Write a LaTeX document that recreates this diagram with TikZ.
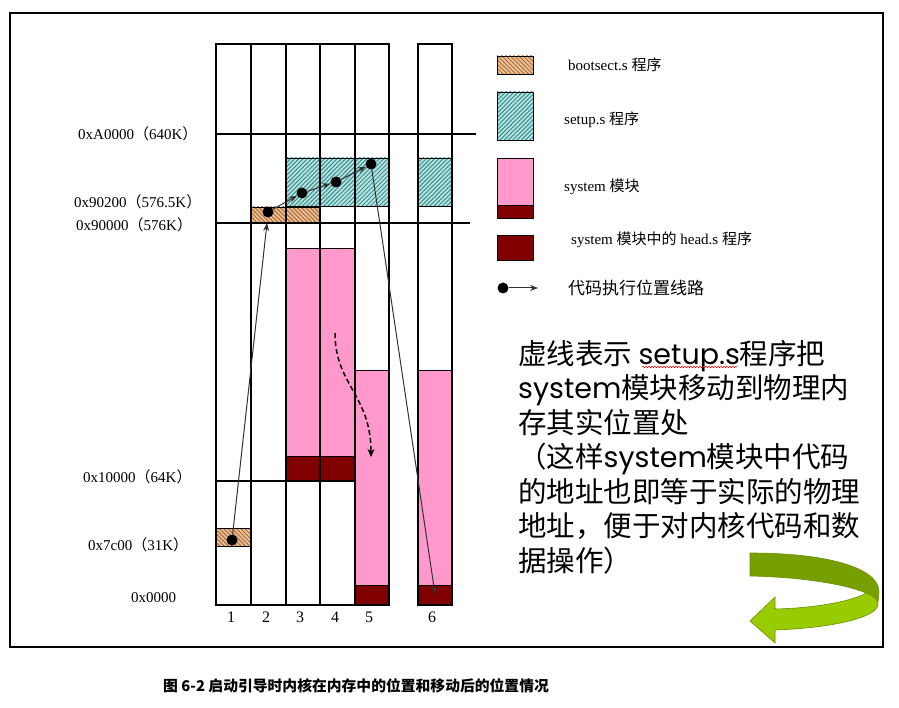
\documentclass[tikz,border=0pt]{standalone}
\usepackage{fontspec}
\setmainfont{Liberation Serif}
\newfontfamily\cjk{Noto Sans CJK SC}
\newfontfamily\gothic{Poppins}
\usetikzlibrary{patterns.meta,arrows.meta,decorations.pathmorphing}
\definecolor{bootbg}{HTML}{EDC293}
\definecolor{bootln}{HTML}{A8693E}
\definecolor{setbg}{HTML}{B6E6E4}
\definecolor{setln}{HTML}{3E8C8A}
\definecolor{sysc}{HTML}{FF99CC}
\definecolor{headc}{HTML}{800000}
\definecolor{gdark}{HTML}{779F00}
\definecolor{glight}{HTML}{99CC00}
\definecolor{gline}{HTML}{6A9000}
\newcommand{\fw}[1]{{\cjk #1}}
\tikzset{
  col/.style={draw, line width=1.8pt},
  addrline/.style={draw, line width=1.1pt},
  bootblk/.style={preaction={fill=bootbg}, pattern={Lines[angle=-45,distance=3pt,line width=1pt]}, pattern color=bootln, draw, line width=0.8pt},
  setblk/.style={preaction={fill=setbg}, pattern={Lines[angle=45,distance=3pt,line width=1pt]}, pattern color=setln, draw, line width=0.8pt},
  sysblk/.style={fill=sysc, draw, line width=0.8pt},
  headblk/.style={fill=headc, draw, line width=0.8pt},
  addr/.style={anchor=west, inner sep=0pt, font=\fontsize{15}{18}\selectfont},
  leg/.style={anchor=west, inner sep=0pt, font=\fontsize{15}{18}\selectfont},
  dot/.style={circle, fill=black, inner sep=0pt, minimum size=11pt},
  run/.style={draw=black!80, line width=1pt, -{Stealth[length=8pt,width=6pt]}},
  note/.style={anchor=base west, inner sep=0pt, font=\cjk\fontsize{28.5}{34}\selectfont}}

\begin{document}
\begin{tikzpicture}[x=1pt, y=-1pt]
\useasboundingbox (0,0) rectangle (899,708);
\draw[line width=1.5pt] (10,13) rectangle (883,647);
% blocks in the memory columns
\path[bootblk] (216,528) rectangle (251,546);
\path[bootblk] (251,207) rectangle (320,223);
\path[setblk] (286,158) rectangle (389,206);
\path[setblk] (418,158) rectangle (452,206);
\path[sysblk] (286,248) rectangle (355,456);
\path[headblk] (286,456) rectangle (355,481);
\foreach \a/\b in {355/389, 418/452} {
  \path[sysblk] (\a,370) rectangle (\b,585);
  \path[headblk] (\a,585) rectangle (\b,605);}
% columns
\foreach \a/\b in {216/251, 251/286, 286/320, 320/355, 355/389, 418/452}
  \draw[col] (\a,44) rectangle (\b,605);
\draw[addrline] (216,134) -- (476,134);
\draw[addrline] (216,223) -- (470,223);
\draw[addrline] (216,481) -- (355,481);
% addresses
\foreach \x/\y/\t [count=\i] in {
    78/134/{0xA0000\fw{（}640K\fw{）}},
    74/202/{0x90200\fw{（}576.5K\fw{）}},
    76/225/{0x90000\fw{（}576K\fw{）}},
    83/477/{0x10000\fw{（}64K\fw{）}},
    88/545/{0x7c00\fw{（}31K\fw{）}},
    131/598/{0x0000}}
  \node[addr] (a\i) at (\x,\y) {\t};
\foreach \x/\n in {231/1, 266/2, 300/3, 335/4, 369/5, 432/6}
  \node[font=\fontsize{16}{18}\selectfont, inner sep=0pt] (c\n) at (\x,617) {\n};
% execution path
\node[dot] (d1) at (232,540) {};
\node[dot] (d2) at (268,212) {};
\node[dot] (d3) at (302,193) {};
\node[dot] (d4) at (336,182) {};
\node[dot] (d5) at (371,164) {};
\coordinate (b2) at (267,223);
\coordinate (h6) at (435,594);
\draw[run] (d1) -- (b2);
\draw[run] (d2) -- (d3);
\draw[run] (d3) -- (d4);
\draw[run] (d4) -- (d5);
\draw[run] (d5) -- (h6);
% move of the system module
\coordinate (m1) at (335,333);
\coordinate (m2) at (371,457);
\draw[line width=1.5pt, dash pattern=on 5pt off 3pt, -{Stealth[length=8pt,width=7pt]}]
  (m1) .. controls (335,385) and (371,395) .. (m2);
% legend
\path[bootblk] (497,56) rectangle (533,74);
\path[setblk] (497,92) rectangle (533,140);
\path[sysblk] (497,158) rectangle (533,205);
\path[headblk] (497,205) rectangle (533,218);
\path[headblk] (497,235) rectangle (533,260);
\node[leg] (l1) at (568,65) {bootsect.s \fw{程序}};
\node[leg] (l2) at (564,120) {setup.s \fw{程序}};
\node[leg] (l3) at (564,187) {system \fw{模块}};
\node[leg] (l4) at (571,240) {system \fw{模块中的} head.s \fw{程序}};
\node[leg, font=\cjk\fontsize{17}{20}\selectfont] (l5) at (568,288) {代码执行位置线路};
\node[dot] (ld) at (503,288) {};
\coordinate (le) at (538,288);
\draw[run] (ld) -- (le);
% note
\foreach \t [count=\i from 0] in {
    {虚线表示 {\gothic setup.s}程序把},
    {{\gothic system}模块移动到物理内},
    {存其实位置处},
    {（这样{\gothic system}模块中代码},
    {的地址也即等于实际的物理},
    {地址，便于对内核代码和数},
    {据操作）}}
  \node[note] (n\i) at (518,364+34.5*\i) {\t};
\draw[red, line width=0.5pt, decorate, decoration={snake, amplitude=0.8pt, segment length=3pt}]
  (642,367) -- (737,367);
% green turn arrow
\draw[fill=gdark, draw=gline, line width=0.6pt]
  (750,553) .. controls (825,553) and (879,567) .. (879,592) -- (878,602)
  -- (866,593) .. controls (845,584) and (800,577) .. (750,576) -- cycle;
\draw[fill=glight, draw=gline, line width=0.6pt]
  (866,593) .. controls (874,596) and (878,600) .. (878,604)
  .. controls (878,618) and (830,628) .. (775,630) -- (775,643) -- (750,621)
  -- (775,597) -- (775,609) .. controls (820,608) and (855,600) .. (866,593) -- cycle;
% caption
\node[anchor=west, inner sep=0pt, font=\cjk\bfseries\fontsize{14.8}{17}\selectfont] (cap) at (163,686)
  {图 6-2 启动引导时内核在内存中的位置和移动后的位置情况};
\end{tikzpicture}
\end{document}
